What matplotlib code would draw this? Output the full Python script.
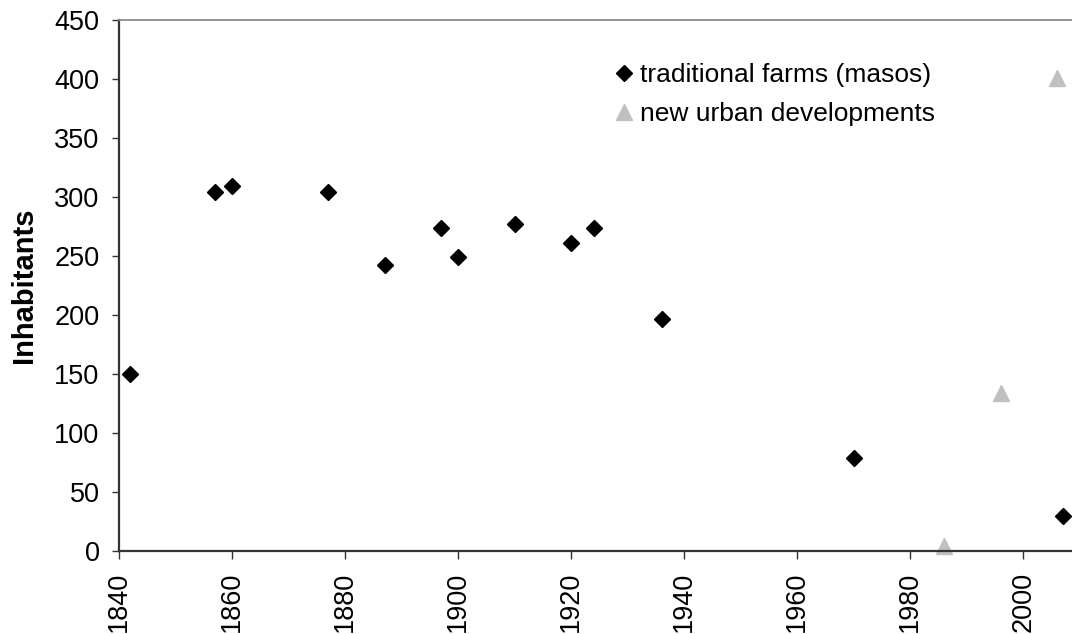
import matplotlib
matplotlib.use("Agg")
import matplotlib.pyplot as plt

plt.rcParams['font.family'] = ['Liberation Sans', 'DejaVu Sans']

farm_years = [1842, 1857, 1860, 1877, 1887, 1897, 1900, 1910, 1920, 1924, 1936, 1970, 2007]
farm_values = [150, 304, 309, 304, 242, 274, 249, 277, 261, 274, 197, 79, 30]
urban_years = [1986, 1996, 2006]
urban_values = [4, 134, 401]
x_ticks = [1840, 1860, 1880, 1900, 1920, 1940, 1960, 1980, 2000]
y_ticks = [0, 50, 100, 150, 200, 250, 300, 350, 400, 450]

W, H = 1072, 634
fig = plt.figure(figsize=(W / 100, H / 100), dpi=100)
ax = fig.add_axes([119 / W, 83 / H, (W - 119) / W, 531 / H])

ax.plot(farm_years, farm_values, linestyle='none', marker='D', markersize=8,
        color='black', clip_on=False, label='traditional farms (masos)')
ax.plot(urban_years, urban_values, linestyle='none', marker='^', markersize=11,
        color='#C0C0C0', clip_on=False, label='new urban developments')

ax.set_xlim(1840, 1840 + (W - 119) / 5.652)
ax.set_ylim(0, 450)
ax.set_xticks(x_ticks)
ax.set_yticks(y_ticks)
ax.set_xticklabels([str(v) for v in x_ticks], rotation=90)

ax.spines['right'].set_visible(False)
ax.spines['top'].set_color('#8c8c8c')
ax.spines['top'].set_linewidth(1.3)
for s in ('left', 'bottom'):
    ax.spines[s].set_color('#333333')
    ax.spines[s].set_linewidth(1.6)

ax.tick_params(axis='both', direction='out', length=5, width=1, color='#333333',
               labelsize=19.5, labelcolor='black')
ax.tick_params(axis='y', pad=9)
ax.tick_params(axis='x', pad=9, length=6)

ax.set_ylabel('Inhabitants', fontsize=21, fontweight='bold', labelpad=12)

ax.legend(loc='upper left', bbox_to_anchor=(615 / W, 1 - 63 / H),
          bbox_transform=fig.transFigure, frameon=False, fontsize=19,
          handlelength=0.7, handletextpad=0.25, borderpad=0, borderaxespad=0,
          labelspacing=0.56, numpoints=1)

fig.savefig('out.png', dpi=100)
